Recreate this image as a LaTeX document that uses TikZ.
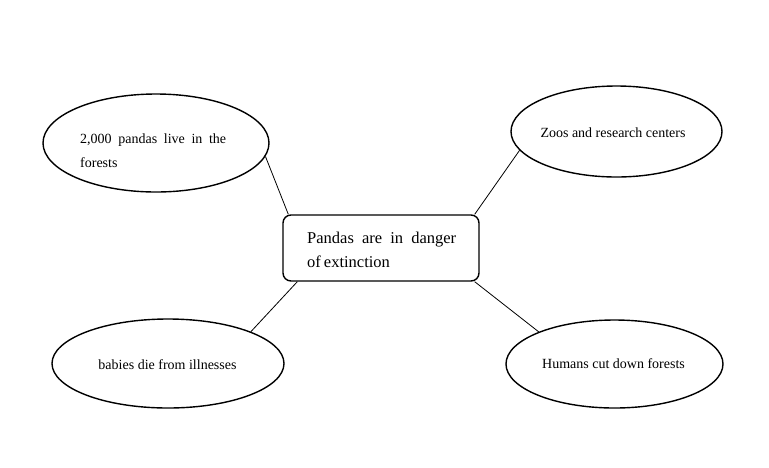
\documentclass[tikz,border=0pt]{standalone}
\usepackage{fontspec}
\setmainfont{Liberation Serif}
\usetikzlibrary{shapes.geometric,calc}
\begin{document}
\begin{tikzpicture}[x=1pt,y=1pt,
  bubble/.style={draw=black,line width=1.4pt,ellipse,inner sep=0pt},
  centerbox/.style={draw=black,line width=1.4pt,rectangle,rounded corners=8pt,inner sep=0pt,minimum width=196pt,minimum height=66pt},
  txt/.style={inner sep=0pt,font=\fontsize{14}{16}\selectfont},
  bigtxt/.style={inner sep=0pt,font=\fontsize{16.5}{19}\selectfont},
  link/.style={draw=black,line width=0.8pt}]
\useasboundingbox (0,0) rectangle (769,-467);
\fill[white] (0,0) rectangle (769,-467);
% ellipses
\node[bubble,minimum width=226pt,minimum height=98pt] (e1) at (156,-143) {};
\node[bubble,minimum width=211pt,minimum height=91pt] (e2) at (616.5,-131.5) {};
\node[bubble,minimum width=232pt,minimum height=89pt] (e3) at (168,-363.5) {};
\node[bubble,minimum width=217pt,minimum height=88pt] (e4) at (614.5,-364) {};
\node[centerbox] (c) at (381,-248) {};
% texts
\node[txt,anchor=base west] (t1a) at (80,-143) {\makebox[146pt][s]{2,000 pandas live in the}};
\node[txt,anchor=base west] (t1b) at (80,-167) {forests};
\node[txt,anchor=base] (t2) at (613,-137) {Zoos and research centers};
\node[txt,anchor=base] (t3) at (167.5,-369) {babies die from illnesses};
\node[txt,anchor=base] (t4) at (613.5,-368) {Humans cut down forests};
\node[bigtxt,anchor=base west] (tca) at (307,-243) {\makebox[149pt][s]{Pandas are in danger}};
\node[bigtxt,anchor=base west] (tcb) at (307,-267) {of\kern3pt extinction};
% connectors
\draw[link] (e1.-7.6) -- ($(c.north west)+(6,0)$);
\draw[link] (e2.191) -- ($(c.north east)+(-5,0)$);
\draw[link] ($(c.south west)+(15,0)$) -- (e3.21);
\draw[link] ($(c.south east)+(-5,0)$) -- (e4.157.6);
\end{tikzpicture}
\end{document}
